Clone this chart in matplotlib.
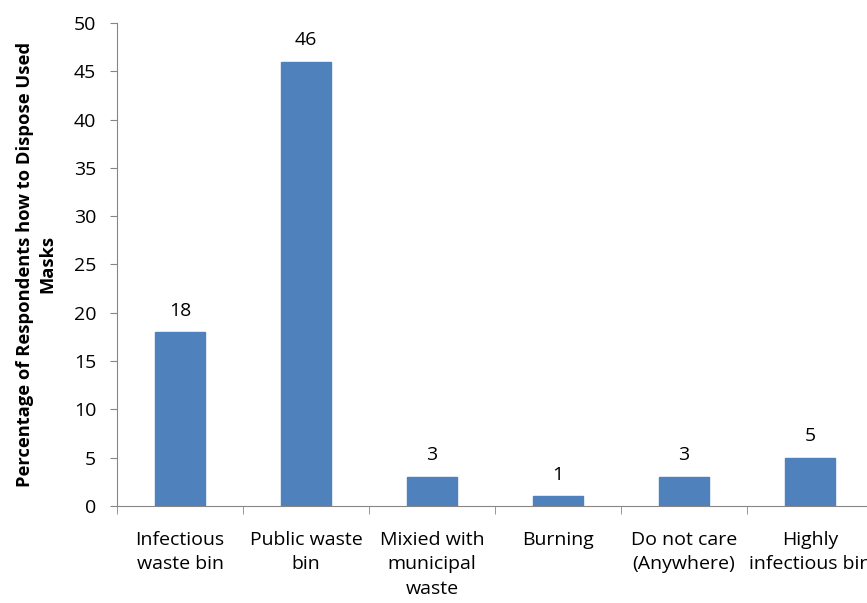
import matplotlib.pyplot as plt
import numpy as np

# Способы утилизации использованных масок
categories = ['Infectious\nwaste bin', 'Public waste\nbin', 'Mixied with\nmunicipal\nwaste',
              'Burning', 'Do not care\n(Anywhere)', 'Highly\ninfectious bin']
percentages = [18, 46, 3, 1, 3, 5]
y_ticks = [0, 5, 10, 15, 20, 25, 30, 35, 40, 45, 50]

plt.rcParams['font.family'] = ['Open Sans', 'DejaVu Sans']

fig = plt.figure(figsize=(8.67, 6.03), dpi=100)
ax = fig.add_axes([0.135, 0.161, 0.872, 0.801])

x = np.arange(len(categories))
bars = ax.bar(x, percentages, width=0.4, color='#4F81BD', edgecolor='#4F81BD', zorder=2)

# Подписи значений над столбцами
for xi, v in zip(x, percentages):
    ax.annotate(str(v), (xi, v), xytext=(0, 9), textcoords='offset points',
                ha='center', va='bottom', fontsize=14, color='black')

ax.set_xlim(-0.5, len(categories) - 0.5)
ax.set_ylim(0, 50)
ax.set_yticks(y_ticks)
ax.tick_params(axis='y', labelsize=14, length=5, color='#868686', pad=10)

# Метки категорий по центру, засечки между категориями
ax.set_xticks(x)
ax.set_xticklabels(categories, fontsize=14, linespacing=1.45)
ax.set_xticks(np.arange(len(categories) + 1) - 0.5, minor=True)
ax.tick_params(axis='x', which='major', length=0, pad=18)
ax.tick_params(axis='x', which='minor', length=6, color='#868686')

for side in ['top', 'right']:
    ax.spines[side].set_visible(False)
for side in ['left', 'bottom']:
    ax.spines[side].set_color('#868686')

ax.set_ylabel('Percentage of Respondents how to Dispose Used\nMasks', fontsize=13.2,
              fontweight='bold', linespacing=1.3)
ax.yaxis.set_label_coords(-0.08, 0.5)

fig.savefig('out.png', dpi=100)
